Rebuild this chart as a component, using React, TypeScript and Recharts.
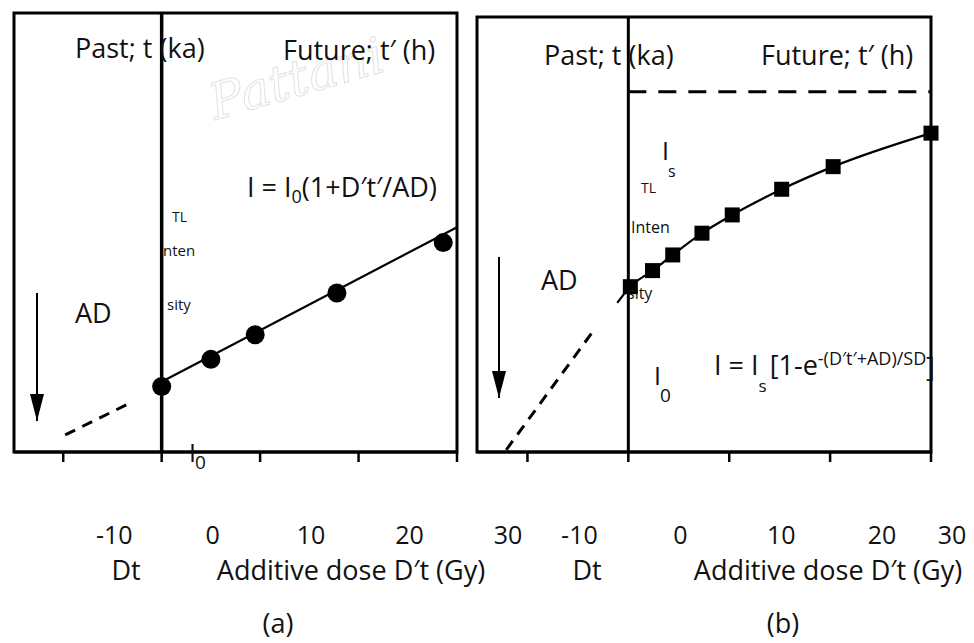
import React from "react";
import {
  ComposedChart,
  Line,
  Scatter,
  XAxis,
  YAxis,
  ReferenceLine,
  ReferenceArea,
} from "recharts";

const FONT = "'Open Sans', 'Noto Sans', sans-serif";
const INK = "#111";

const X_TICKS = [-10, 0, 10, 20, 30];
const X_DOMAIN = [-15, 30];
const Y_DOMAIN = [0, 100];

// (a) linear growth
const circlesA = [
  { x: 0, y: 14.9 },
  { x: 5, y: 21.1 },
  { x: 9.5, y: 26.7 },
  { x: 17.8, y: 36.2 },
  { x: 28.6, y: 47.7 },
];
const fitA = [
  { x: 0, y: 16 },
  { x: 30, y: 51.2 },
];
const pastA = [
  { x: -9.8, y: 3.9 },
  { x: -2.9, y: 11.5 },
];

// (b) saturating growth
const squaresB = [
  { x: 0.2, y: 38 },
  { x: 2.4, y: 41.7 },
  { x: 4.4, y: 45.3 },
  { x: 7.3, y: 50.3 },
  { x: 10.3, y: 54.5 },
  { x: 15.2, y: 60.4 },
  { x: 20.3, y: 65.6 },
  { x: 30, y: 73.3 },
];
const curveB = [{ x: -1.1, y: 34.3 }, ...squaresB];
const pastB = [
  { x: -12.1, y: 0.5 },
  { x: -3.2, y: 28.7 },
];
const saturationB = 82.8;

const makeTick = (shift: number, maxX: number) => (props: any) => {
  const { x, y, payload } = props;
  return (
    <text
      x={Math.min(x + shift, maxX)}
      y={y + 80}
      textAnchor="middle"
      fontSize={25}
      fontFamily={FONT}
      fill={INK}
    >
      {payload.value}
    </text>
  );
};

const dotShape = (p: any) => <circle cx={p.cx} cy={p.cy} r={9.5} fill="#000" />;
const squareShape = (p: any) => (
  <rect x={p.cx - 7.5} y={p.cy - 7.5} width={15} height={15} fill="#000" />
);

export default function App() {
  return (
    <div
      style={{
        position: "absolute",
        left: 0,
        top: 0,
        width: 974,
        height: 643,
        background: "#fff",
        overflow: "hidden",
      }}
    >
      {/* panel (a) */}
      <div style={{ position: "absolute", left: 0, top: 0 }}>
        <ComposedChart
          width={530}
          height={643}
          margin={{ top: 13, right: 73, bottom: 0, left: 14 }}
        >
          <XAxis
            dataKey="x"
            type="number"
            domain={X_DOMAIN}
            ticks={X_TICKS}
            height={191}
            tickSize={10}
            axisLine={{ stroke: "#000", strokeWidth: 3 }}
            tickLine={{ stroke: "#000", strokeWidth: 2.5 }}
            tick={makeTick(51, 9999)}
          />
          <YAxis type="number" domain={Y_DOMAIN} hide />
          <ReferenceArea
            x1={-15}
            x2={30}
            y1={0}
            y2={100}
            fill="none"
            stroke="#000"
            strokeWidth={3}
          />
          <ReferenceLine x={0} stroke="#000" strokeWidth={3.5} />
          <Line
            data={pastA}
            dataKey="y"
            type="linear"
            stroke="#000"
            strokeWidth={3}
            strokeDasharray="11 8"
            dot={false}
            isAnimationActive={false}
          />
          <Line
            data={fitA}
            dataKey="y"
            type="linear"
            stroke="#000"
            strokeWidth={2.2}
            dot={false}
            isAnimationActive={false}
          />
          <Scatter
            data={circlesA}
            dataKey="y"
            shape={dotShape}
            isAnimationActive={false}
          />
        </ComposedChart>
      </div>

      {/* panel (b) */}
      <div style={{ position: "absolute", left: 470, top: 0 }}>
        <ComposedChart
          width={504}
          height={643}
          margin={{ top: 17, right: 43, bottom: 0, left: 7 }}
        >
          <XAxis
            dataKey="x"
            type="number"
            domain={X_DOMAIN}
            ticks={X_TICKS}
            height={191}
            tickSize={10}
            axisLine={{ stroke: "#000", strokeWidth: 3 }}
            tickLine={{ stroke: "#000", strokeWidth: 2.5 }}
            tick={makeTick(52, 482)}
          />
          <YAxis type="number" domain={Y_DOMAIN} hide />
          <ReferenceArea
            x1={-15}
            x2={30}
            y1={0}
            y2={100}
            fill="none"
            stroke="#000"
            strokeWidth={3}
          />
          <ReferenceLine x={0} stroke="#000" strokeWidth={3} />
          <ReferenceLine
            segment={[
              { x: 0, y: saturationB },
              { x: 30, y: saturationB },
            ]}
            stroke="#000"
            strokeWidth={3}
            strokeDasharray="18 12"
          />
          <Line
            data={pastB}
            dataKey="y"
            type="linear"
            stroke="#000"
            strokeWidth={3}
            strokeDasharray="11 8"
            dot={false}
            isAnimationActive={false}
          />
          <Line
            data={curveB}
            dataKey="y"
            type="monotone"
            stroke="#000"
            strokeWidth={2.2}
            dot={false}
            isAnimationActive={false}
          />
          <Scatter
            data={squaresB}
            dataKey="y"
            shape={squareShape}
            isAnimationActive={false}
          />
        </ComposedChart>
      </div>

      {/* annotations */}
      <svg
        width={974}
        height={643}
        style={{ position: "absolute", left: 0, top: 0, pointerEvents: "none" }}
        fontFamily={FONT}
        fill={INK}
      >
        <defs>
          <marker
            id="head"
            viewBox="0 0 10 10"
            refX="10"
            refY="5"
            markerWidth="27"
            markerHeight="14"
            markerUnits="userSpaceOnUse"
            preserveAspectRatio="none"
            orient="auto"
          >
            <path d="M0,0 L10,5 L0,10 z" fill="#000" />
          </marker>
        </defs>

        {/* faint watermark */}
        <text
          x={215}
          y={120}
          transform="rotate(-16 215 120)"
          fill="none"
          stroke="#e2e2e2"
          strokeWidth={1}
          fontFamily="'DejaVu Serif', serif"
          fontStyle="italic"
          fontSize={50}
        >
          Pattani
        </text>

        {/* (a) texts */}
        <text x={75} y={58} fontSize={27}>Past; t (ka)</text>
        <text x={283} y={60} fontSize={27}>Future; t′ (h)</text>
        <text x={247} y={197} fontSize={27}>
          I = I
          <tspan fontSize={18} dy={6}>0</tspan>
          <tspan dy={-6}>(1+D′t′/AD)</tspan>
        </text>
        <text x={172} y={222} fontSize={14}>TL</text>
        <text x={163} y={256} fontSize={15}>nten</text>
        <text x={167} y={310} fontSize={15}>sity</text>
        <text x={75} y={323} fontSize={27}>AD</text>
        <text x={189} y={462} fontSize={25}>
          I
          <tspan fontSize={19} dy={7} dx={-1}>0</tspan>
        </text>
        <line x1={37} y1={293} x2={37} y2={421} stroke="#000" strokeWidth={2} markerEnd="url(#head)" />

        {/* (b) texts */}
        <text x={544} y={65} fontSize={27}>Past; t (ka)</text>
        <text x={761} y={65} fontSize={27}>Future; t′ (h)</text>
        <text x={662} y={160} fontSize={25}>I</text>
        <text x={668} y={177} fontSize={16}>s</text>
        <text x={641} y={193} fontSize={14}>TL</text>
        <text x={631} y={233} fontSize={16}>Inten</text>
        <text x={627} y={299} fontSize={16}>sity</text>
        <text x={541} y={290} fontSize={27}>AD</text>
        <text x={654} y={385} fontSize={25}>I</text>
        <text x={660} y={402} fontSize={19}>0</text>
        <text x={714} y={375} fontSize={27}>
          I = I
          <tspan fontSize={17} dy={17}>s</tspan>
          <tspan dy={-17} dx={3}>[1-e</tspan>
          <tspan fontSize={18} dy={-10}>-(D′t′+AD)/SD</tspan>
        </text>
        <text x={926} y={377} fontSize={27}>]</text>
        <line x1={499} y1={257} x2={499} y2={398} stroke="#000" strokeWidth={2} markerEnd="url(#head)" />

        {/* axis titles and panel captions */}
        <text x={126} y={580} fontSize={27} textAnchor="middle">Dt</text>
        <text x={351} y={580} fontSize={27} textAnchor="middle">Additive dose D′t (Gy)</text>
        <text x={278} y={633} fontSize={27} textAnchor="middle">(a)</text>
        <text x={587} y={580} fontSize={27} textAnchor="middle">Dt</text>
        <text x={828} y={580} fontSize={27} textAnchor="middle">Additive dose D′t (Gy)</text>
        <text x={783} y={633} fontSize={27} textAnchor="middle">(b)</text>
      </svg>
    </div>
  );
}
